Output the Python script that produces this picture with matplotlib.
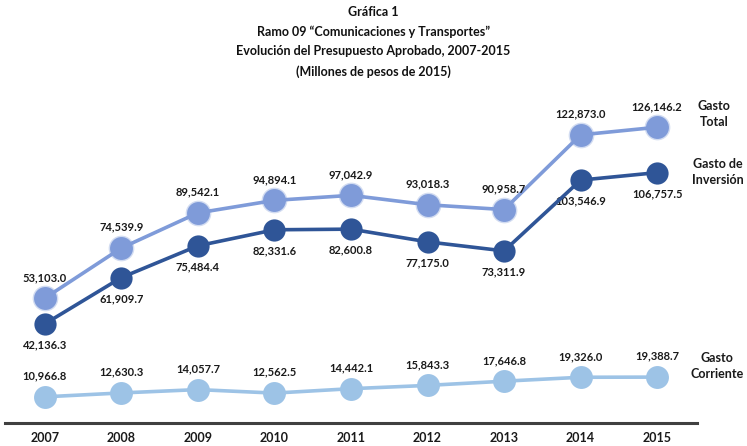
import matplotlib
matplotlib.use("Agg")
import matplotlib.pyplot as plt

plt.rcParams['font.family'] = ['Lato', 'DejaVu Sans']

years = ['2007', '2008', '2009', '2010', '2011', '2012', '2013', '2014', '2015']
gasto_total = [53103.0, 74539.9, 89542.1, 94894.1, 97042.9, 93018.3, 90958.7, 122873.0, 126146.2]
gasto_inversion = [42136.3, 61909.7, 75484.4, 82331.6, 82600.8, 77175.0, 73311.9, 103546.9, 106757.5]
gasto_corriente = [10966.8, 12630.3, 14057.7, 12562.5, 14442.1, 15843.3, 17646.8, 19326.0, 19388.7]

c_total = '#7f9bd9'
c_inv = '#2f5597'
c_corr = '#9dc3e6'

fig = plt.figure(figsize=(7.47, 4.46), dpi=100)
ax = fig.add_axes([5 / 747, 1 - 422.5 / 446, 692 / 747, 322 / 446])
x = list(range(len(years)))

# gasto total, marcadores con borde difuso
ax.plot(x, gasto_total, color=c_total, lw=2.6, zorder=2)
ax.plot(x, gasto_total, ls='none', marker='o', ms=18.5, color=c_total, alpha=0.35, mec='none', zorder=3)
ax.plot(x, gasto_total, ls='none', marker='o', ms=16.5, color=c_total, mec='none', zorder=3)

ax.plot(x, gasto_inversion, color=c_inv, lw=2.6, marker='o', ms=16, mec='none', zorder=4)
ax.plot(x, gasto_corriente, color=c_corr, lw=2.6, marker='o', ms=16.5, mec='none', zorder=4)

lab = dict(ha='center', va='center', fontsize=8, fontweight='bold', color='#1a1a1a')
for i in x:
    ax.annotate(f'{gasto_total[i]:,.1f}', (i, gasto_total[i]), xytext=(0, 15), textcoords='offset points', **lab)
    ax.annotate(f'{gasto_inversion[i]:,.1f}', (i, gasto_inversion[i]), xytext=(0, -15), textcoords='offset points', **lab)
    ax.annotate(f'{gasto_corriente[i]:,.1f}', (i, gasto_corriente[i]), xytext=(0, 15), textcoords='offset points', **lab)

ser = dict(ha='center', va='center', fontsize=9, fontweight='bold', color='#1a1a1a', linespacing=1.4)
fig.text(714 / 747, 1 - 113.5 / 446, 'Gasto\nTotal', **ser)
fig.text(718 / 747, 1 - 172 / 446, 'Gasto de\nInversión', **ser)
fig.text(717 / 747, 1 - 366 / 446, 'Gasto\nCorriente', **ser)

ax.set_xlim(-0.52, 8.52)
ax.set_ylim(0, 322 * 427.2)
ax.set_xticks(x)
ax.set_xticklabels(years, fontsize=9, fontweight='bold', color='#1a1a1a')
ax.tick_params(axis='x', length=0, pad=7)
ax.set_yticks([])
for s in ['top', 'left', 'right']:
    ax.spines[s].set_visible(False)
ax.spines['bottom'].set_color('#404040')
ax.spines['bottom'].set_linewidth(2.2)

fig.text(0.5, 1 - 42 / 446,
         'Gráfica 1\nRamo 09 “Comunicaciones y Transportes”\nEvolución del Presupuesto Aprobado, 2007-2015\n(Millones de pesos de 2015)',
         ha='center', va='center', fontsize=9, fontweight='bold', color='#111111', linespacing=1.72)

fig.savefig('out.png', dpi=100)
